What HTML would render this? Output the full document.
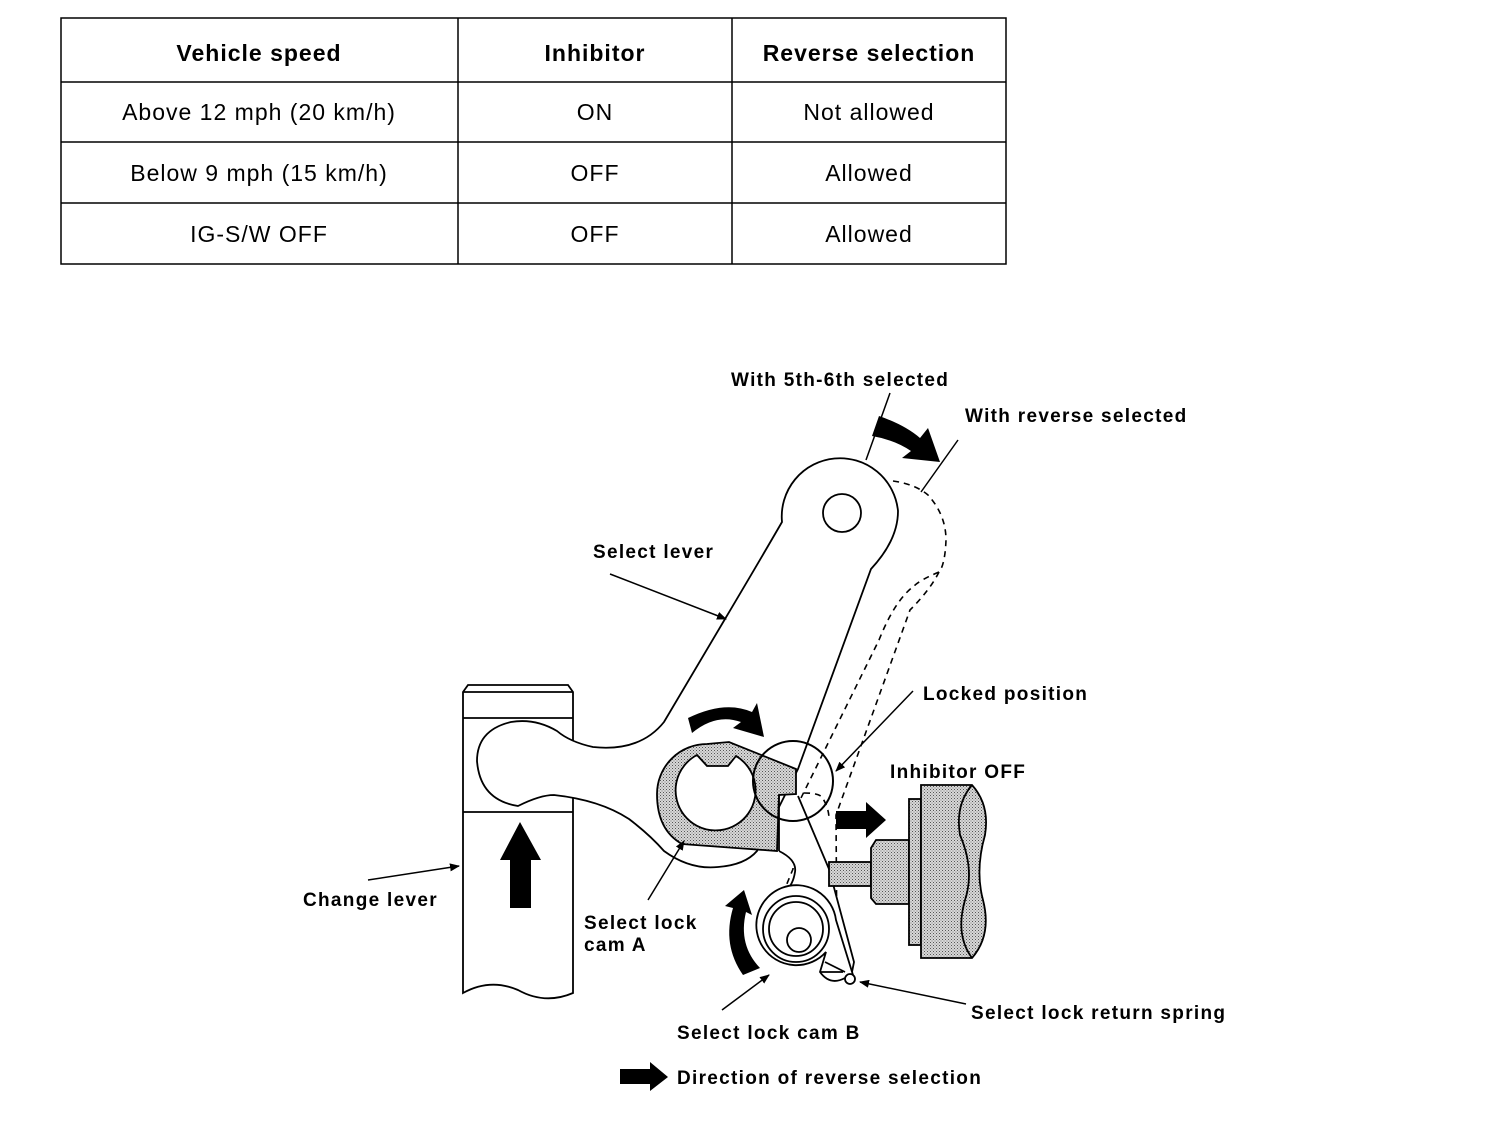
<!DOCTYPE html>
<html><head><meta charset="utf-8"><style>
body{margin:0;background:#fff;width:1504px;height:1138px;overflow:hidden}
svg{display:block}
</style></head><body>
<svg width="1504" height="1138" viewBox="0 0 1504 1138" xmlns="http://www.w3.org/2000/svg" font-family="Liberation Sans, sans-serif">
<defs>
<pattern id="dot" width="3" height="3" patternUnits="userSpaceOnUse"><rect width="3" height="3" fill="#d8d8d8"/><rect width="1" height="1" fill="#555"/><rect x="1.5" y="1.5" width="1" height="1" fill="#777"/></pattern>
<marker id="ah" markerWidth="10" markerHeight="8" refX="9" refY="4" orient="auto" markerUnits="userSpaceOnUse"><path d="M0,0 L10,4 L0,8 Z" fill="#000"/></marker>
</defs>
<!-- table -->
<g stroke="#000" stroke-width="1.5" fill="none">
<rect x="61" y="18" width="945" height="246"/>
<line x1="61" y1="82" x2="1006" y2="82"/><line x1="61" y1="142" x2="1006" y2="142"/><line x1="61" y1="203" x2="1006" y2="203"/>
<line x1="458" y1="18" x2="458" y2="264"/><line x1="732" y1="18" x2="732" y2="264"/>
</g>
<g font-size="23" text-anchor="middle" fill="#000" letter-spacing="1">
<text x="259" y="61" font-weight="bold">Vehicle speed</text><text x="595" y="61" font-weight="bold">Inhibitor</text><text x="869" y="61" font-weight="bold">Reverse selection</text>
<text x="259" y="120">Above 12 mph (20 km/h)</text><text x="595" y="120">ON</text><text x="869" y="120">Not allowed</text>
<text x="259" y="181">Below 9 mph (15 km/h)</text><text x="595" y="181">OFF</text><text x="869" y="181">Allowed</text>
<text x="259" y="242">IG-S/W OFF</text><text x="595" y="242">OFF</text><text x="869" y="242">Allowed</text>
</g>
<!-- change lever -->
<g stroke="#000" stroke-width="1.8" fill="#fff">
<path d="M463,993 L463,692 L468,685 L568,685 L573,692 L573,993 Q545,1005 518,990 Q490,978 463,993 Z"/>
<line x1="463" y1="692" x2="573" y2="692"/>
<line x1="463" y1="718" x2="573" y2="718"/>
<line x1="463" y1="812" x2="573" y2="812"/>
</g>
<path d="M510,908 L510,860 L500,860 L520,822 L541,860 L531,860 L531,908 Z" fill="#000"/>
<!-- select lever -->
<path d="M782,522 Q760,560 725,619 L664,722 Q640,752 593,747 Q570,742 557,731 Q535,718 511,722 Q477,730 477,761 Q480,800 518,806 Q540,795 554,795 Q600,800 629,819 Q650,835 664,851 Q690,870 718,867 Q745,865 757,851 L798,769 L871,569 Q898,540 898,511 A57,57 0 1 0 782,522 Z" fill="#fff" stroke="#000" stroke-width="1.8"/>
<circle cx="842" cy="513" r="19" fill="#fff" stroke="#000" stroke-width="1.8"/>
<!-- dashed reverse position -->
<g stroke="#000" stroke-width="1.6" fill="none" stroke-dasharray="6,5">
<path d="M893,481 Q915,484 928,495 Q946,515 946,540 Q945,565 939,572 Q920,580 914,586 Q895,600 879,640 L800,800 L793,833 L793,869 L786,886"/>
<path d="M939,572 Q930,590 910,610 L836,815 L837,961"/>
<path d="M804,793 Q818,793 822,797 Q829,808 829,819"/>
</g>
<!-- cam A shaded -->
<path d="M707,744 L729,742 L796,769 L796,794 L779,795 L777,851 L682,844 Q657,830 657,794 A50,50 0 0 1 707,744 Z" fill="url(#dot)" stroke="#000" stroke-width="1.8"/>
<path d="M697,755 L707,766 L728,766 L736,756 A40,40 0 1 1 697,755 Z" fill="#fff" stroke="#000" stroke-width="1.8"/>
<!-- lower lever part -->
<path d="M779,851 Q797,860 795,872 Q793,885 786,890 L764,904 L852,972 L854,962 L829,869 L798,796" fill="#fff" stroke="#000" stroke-width="1.8"/>
<path d="M779,795 L779,851" stroke="#000" stroke-width="1.8"/>
<!-- cam B -->
<g stroke="#000" stroke-width="1.8" fill="#fff">
<path d="M826,952 A40,40 0 1 1 836,920 L853,975 A5,5 0 0 1 845,978 Q830,986 820,972 Z"/>
<circle cx="796" cy="929" r="33"/><circle cx="796" cy="929" r="27"/>
<circle cx="799" cy="940" r="12"/>
<path d="M820,972 L843,972 M825,962 L845,972" fill="none"/>
<circle cx="850" cy="979" r="5"/>
</g>
<!-- locked circle -->
<circle cx="793" cy="781" r="40" fill="none" stroke="#000" stroke-width="2"/>
<!-- inhibitor -->
<g stroke="#000" stroke-width="1.8" fill="url(#dot)">
<rect x="829" y="862" width="42" height="24"/>
<path d="M871,848 L876,840 L909,840 L909,904 L876,904 L871,898 Z"/>
<rect x="909" y="799" width="12" height="146"/>
<path d="M921,785 L972,785 Q990,805 985,835 Q975,870 983,900 Q992,935 972,958 L921,958 Z"/>
<path d="M972,785 Q955,805 960,835 Q975,870 965,900 Q955,935 972,958" fill="none"/>
</g>
<!-- arrows -->
<path d="M836,811 L866,811 L866,802 L886,820 L866,838 L866,829 L836,829 Z" fill="#000"/>
<path d="M688,718 Q725,700 752,712 L757,703 L764,737 L733,728 L741,722 Q716,713 692,733 Z" fill="#000"/>
<path d="M743,975 Q722,945 733,908 L725,906 L744,890 L752,915 L746,912 Q738,945 760,968 Z" fill="#000"/>
<path d="M879,416 Q905,425 920,438 L928,428 L940,462 L902,458 L911,451 Q895,440 872,436 Z" fill="#000"/>
<path d="M620,1069 L650,1069 L650,1062 L668,1077 L650,1091 L650,1084 L620,1084 Z" fill="#000"/>
<g stroke="#000" stroke-width="1.5">
<line x1="890" y1="393" x2="866" y2="460"/><line x1="958" y1="440" x2="921" y2="492"/>
</g>
<!-- leaders -->
<g stroke="#000" stroke-width="1.5" fill="none" marker-end="url(#ah)">
<line x1="610" y1="574" x2="726" y2="619"/>
<line x1="913" y1="691" x2="836" y2="771"/>
<line x1="368" y1="880" x2="459" y2="866"/>
<line x1="648" y1="900" x2="684" y2="841"/>
<line x1="722" y1="1010" x2="769" y2="975"/>
<line x1="966" y1="1004" x2="860" y2="982"/>
</g>
<!-- labels -->
<g font-size="19" font-weight="bold" fill="#000" letter-spacing="1.3">
<text x="731" y="386">With 5th-6th selected</text>
<text x="965" y="422">With reverse selected</text>
<text x="593" y="558">Select lever</text>
<text x="923" y="700">Locked position</text>
<text x="890" y="778">Inhibitor OFF</text>
<text x="303" y="906">Change lever</text>
<text x="584" y="929">Select lock</text>
<text x="584" y="951">cam A</text>
<text x="971" y="1019">Select lock return spring</text>
<text x="677" y="1039">Select lock cam B</text>
<text x="677" y="1084">Direction of reverse selection</text>
</g>
</svg>
</body></html>
